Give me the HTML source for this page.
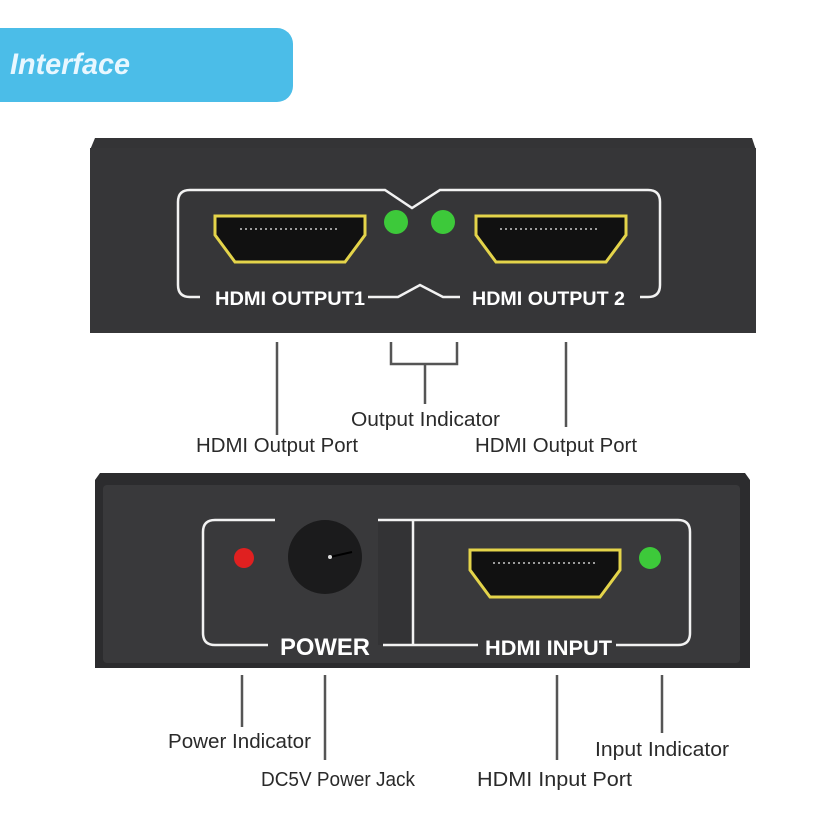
<!DOCTYPE html>
<html><head><meta charset="utf-8"><style>
html,body{margin:0;padding:0;background:#fff;}
svg{display:block;}
.l{font-family:"Liberation Sans Narrow","Liberation Sans",sans-serif;font-size:20px;fill:#2a2a2a;}
.w{font-family:"Liberation Sans Narrow","Liberation Sans",sans-serif;font-weight:bold;fill:#fff;}
</style></head><body>
<svg width="828" height="828" viewBox="0 0 828 828" xmlns="http://www.w3.org/2000/svg">
<rect width="828" height="828" fill="#fff"/>
<rect x="-20" y="28" width="313" height="74" rx="16" fill="#4bbde8"/>
<text x="10" y="74" font-family="Liberation Sans,sans-serif" font-style="italic" font-weight="bold" font-size="30" fill="#e8f7ff" textLength="120" lengthAdjust="spacingAndGlyphs">Interface</text>

<path d="M95 138 L752 138 L756 150 L756 333 L90 333 L90 150 Z" fill="#343436"/>
<rect x="90" y="148" width="666" height="185" fill="#363638"/>
<path d="M200 297 L190 297 Q178 297 178 285 L178 202 Q178 190 190 190 L385 190 L412 208 L440 190 L648 190 Q660 190 660 202 L660 285 Q660 297 648 297 L640 297" fill="none" stroke="#f2f2f2" stroke-width="2.5"/>
<path d="M368 297 L398 297 L420 285 L443 297 L460 297" fill="none" stroke="#f2f2f2" stroke-width="2.5"/>
<text class="w" x="215" y="305" font-size="19" textLength="150" lengthAdjust="spacingAndGlyphs">HDMI OUTPUT1</text>
<text class="w" x="472" y="305" font-size="19" textLength="153" lengthAdjust="spacingAndGlyphs">HDMI OUTPUT 2</text>
<path d="M215 216 L365 216 L365 235 L345 262 L235 262 L215 235 Z" fill="#111" stroke="#e4d44a" stroke-width="3"/>
<path d="M476 216 L626 216 L626 235 L606 262 L496 262 L476 235 Z" fill="#111" stroke="#e4d44a" stroke-width="3"/>
<line x1="240" y1="229" x2="340" y2="229" stroke="#ccc" stroke-width="1.5" stroke-dasharray="2 3"/>
<line x1="500" y1="229" x2="600" y2="229" stroke="#ccc" stroke-width="1.5" stroke-dasharray="2 3"/>
<circle cx="396" cy="222" r="12" fill="#3dc93a"/>
<circle cx="443" cy="222" r="12" fill="#3dc93a"/>

<g stroke="#555" stroke-width="2.5" fill="none">
<line x1="277" y1="342" x2="277" y2="435"/>
<path d="M391 342 L391 364 L457 364 L457 342"/>
<line x1="425" y1="364" x2="425" y2="404"/>
<line x1="566" y1="342" x2="566" y2="427"/>
</g>
<text class="l" x="351" y="426" textLength="149" lengthAdjust="spacingAndGlyphs">Output Indicator</text>
<text class="l" x="196" y="452" textLength="162" lengthAdjust="spacingAndGlyphs">HDMI Output Port</text>
<text class="l" x="475" y="452" textLength="162" lengthAdjust="spacingAndGlyphs">HDMI Output Port</text>

<path d="M100 473 L745 473 L750 480 L750 668 L95 668 L95 480 Z" fill="#2c2c2e"/>
<rect x="103" y="485" width="637" height="178" rx="4" fill="#39393b"/>
<rect x="378" y="520" width="35" height="125" fill="#333335"/>
<path d="M275 520 L215 520 Q203 520 203 532 L203 633 Q203 645 215 645 L268 645" fill="none" stroke="#f2f2f2" stroke-width="2.5"/>
<path d="M378 520 L678 520 Q690 520 690 532 L690 633 Q690 645 678 645 L616 645" fill="none" stroke="#f2f2f2" stroke-width="2.5"/>
<path d="M383 645 L478 645 M413 520 L413 645" fill="none" stroke="#f2f2f2" stroke-width="2.5"/>
<text class="w" x="280" y="655" font-size="24" textLength="90" lengthAdjust="spacingAndGlyphs">POWER</text>
<text class="w" x="485" y="655" font-size="21" textLength="127" lengthAdjust="spacingAndGlyphs">HDMI INPUT</text>
<circle cx="325" cy="557" r="37" fill="#1b1b1c"/>
<line x1="330" y1="557" x2="352" y2="552" stroke="#000" stroke-width="2"/>
<circle cx="330" cy="557" r="2" fill="#ddd"/>
<circle cx="244" cy="558" r="10" fill="#e02020"/>
<circle cx="650" cy="558" r="11" fill="#3dc93a"/>
<path d="M470 550 L620 550 L620 570 L600 597 L490 597 L470 570 Z" fill="#111" stroke="#e4d44a" stroke-width="3"/>
<line x1="493" y1="563" x2="597" y2="563" stroke="#ccc" stroke-width="1.5" stroke-dasharray="2 3"/>

<g stroke="#555" stroke-width="2.5">
<line x1="242" y1="675" x2="242" y2="727"/>
<line x1="325" y1="675" x2="325" y2="760"/>
<line x1="557" y1="675" x2="557" y2="760"/>
<line x1="662" y1="675" x2="662" y2="733"/>
</g>
<text class="l" x="168" y="748" textLength="143" lengthAdjust="spacingAndGlyphs">Power Indicator</text>
<text class="l" x="261" y="786" textLength="154" lengthAdjust="spacingAndGlyphs">DC5V Power Jack</text>
<text class="l" x="477" y="786" textLength="155" lengthAdjust="spacingAndGlyphs">HDMI Input Port</text>
<text class="l" x="595" y="756" textLength="134" lengthAdjust="spacingAndGlyphs">Input Indicator</text>
</svg>
</body></html>
